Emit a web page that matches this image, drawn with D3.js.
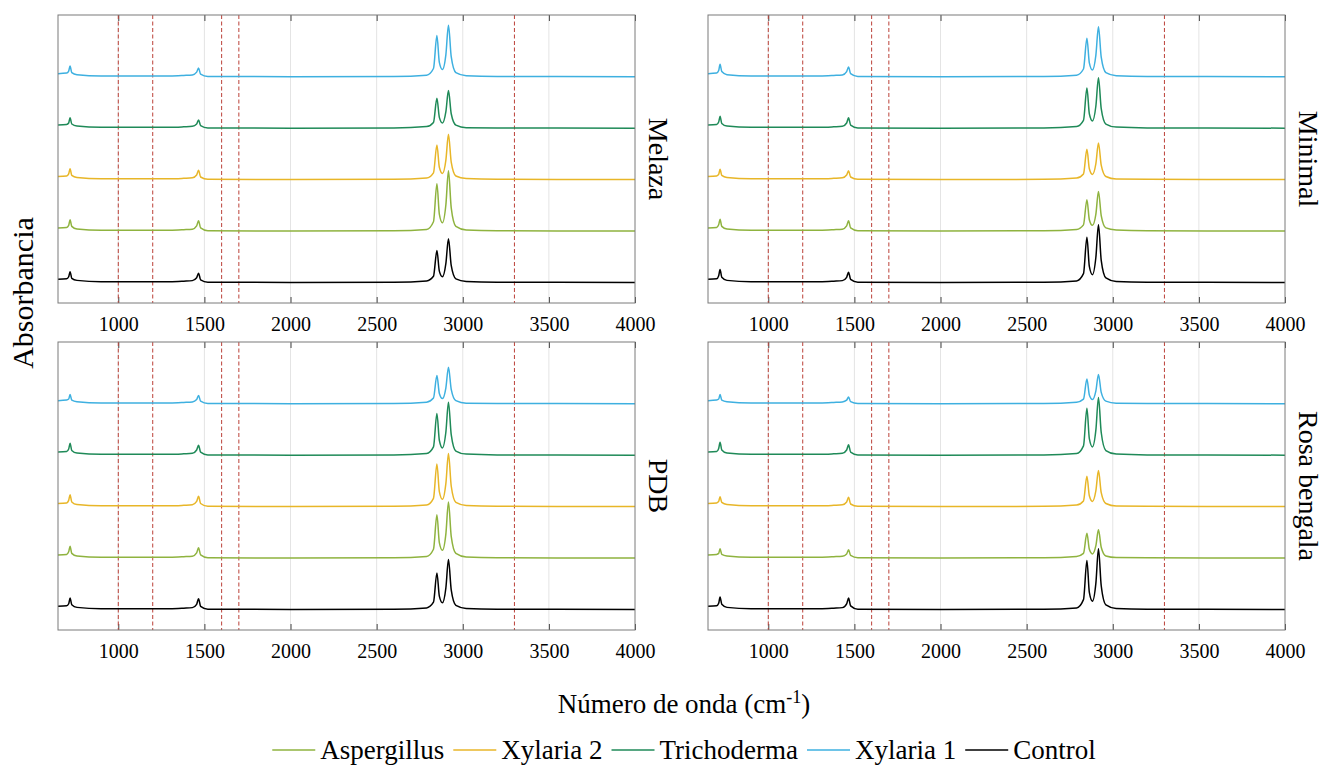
<!DOCTYPE html>
<html>
<head>
<meta charset="utf-8">
<script src="https://cdn.jsdelivr.net/npm/d3@7"></script>
<style>
  body { margin: 0; background: #fff; }
  svg { display: block; }
  text { font-family: "Liberation Serif", "Times New Roman", serif; fill: #000; }
</style>
</head>
<body>
<div id="chart"></div>
<script>
// wavenumber grid (cm-1) shared by every spectrum
const wavenumbers = [650, 700, 712, 720, 730, 760, 900, 1300, 1380, 1430, 1455, 1466, 1478, 1520,
  2000, 2600, 2790, 2830, 2850, 2864, 2882, 2902, 2917, 2933, 2960, 3020, 3200, 4000];

const seriesNames = ["Aspergillus", "Xylaria 2", "Trichoderma", "Xylaria 1", "Control"];
const seriesColors = ["#8fb33f", "#e8b628", "#1f8a58", "#3eb0e0", "#000000"];
const stackOffsets = [1, 2, 3, 4, 0];

const panelNames = ["Melaza", "Minimal", "PDB", "Rosa bengala"];

// absorbance values, one row per series (same order as seriesNames)
const melaza = [
  [0.06,0.07,0.11,0.22,0.09,0.04,0.015,0.015,0.025,0.035,0.10,0.20,0.06,0.005,0,0.005,0.03,0.18,0.92,0.33,0.16,0.51,1.17,0.45,0.09,0.02,0.005,0],
  [0.06,0.07,0.11,0.21,0.08,0.04,0.015,0.015,0.025,0.035,0.09,0.18,0.05,0.005,0,0.005,0.03,0.13,0.67,0.24,0.12,0.38,0.88,0.34,0.07,0.02,0.005,0],
  [0.06,0.07,0.10,0.20,0.08,0.04,0.015,0.015,0.025,0.035,0.08,0.16,0.05,0.005,0,0.005,0.03,0.11,0.58,0.21,0.10,0.32,0.73,0.28,0.06,0.01,0.005,0],
  [0.06,0.07,0.11,0.21,0.08,0.04,0.015,0.015,0.025,0.035,0.09,0.17,0.05,0.005,0,0.005,0.03,0.16,0.80,0.28,0.14,0.43,1.00,0.39,0.08,0.02,0.005,0],
  [0.06,0.07,0.11,0.21,0.08,0.04,0.015,0.015,0.025,0.035,0.09,0.18,0.05,0.005,0,0.005,0.03,0.12,0.62,0.22,0.11,0.37,0.85,0.33,0.07,0.02,0.005,0]
];
const minimal = [
  [0.06,0.07,0.12,0.23,0.09,0.04,0.015,0.015,0.025,0.035,0.10,0.20,0.06,0.005,0,0.005,0.03,0.12,0.61,0.22,0.11,0.33,0.77,0.30,0.06,0.02,0.005,0],
  [0.06,0.07,0.10,0.20,0.08,0.04,0.015,0.015,0.025,0.035,0.09,0.17,0.05,0.005,0,0.005,0.03,0.11,0.59,0.21,0.10,0.31,0.71,0.28,0.06,0.01,0.005,0],
  [0.06,0.07,0.12,0.23,0.09,0.04,0.015,0.015,0.025,0.035,0.10,0.20,0.06,0.005,0,0.005,0.03,0.15,0.78,0.28,0.14,0.43,0.98,0.38,0.08,0.02,0.005,0],
  [0.06,0.07,0.12,0.24,0.10,0.04,0.015,0.015,0.025,0.035,0.10,0.19,0.06,0.005,0,0.005,0.03,0.15,0.75,0.27,0.13,0.42,0.97,0.38,0.08,0.02,0.005,0],
  [0.06,0.07,0.13,0.25,0.10,0.04,0.015,0.015,0.025,0.035,0.10,0.20,0.06,0.005,0,0.005,0.03,0.17,0.88,0.31,0.15,0.49,1.12,0.43,0.09,0.02,0.005,0]
];
const pdb = [
  [0.06,0.07,0.12,0.23,0.09,0.04,0.015,0.015,0.025,0.035,0.10,0.20,0.06,0.005,0,0.005,0.03,0.17,0.84,0.30,0.15,0.47,1.09,0.42,0.09,0.02,0.005,0],
  [0.06,0.07,0.12,0.23,0.09,0.04,0.015,0.015,0.025,0.035,0.10,0.20,0.06,0.005,0,0.005,0.03,0.16,0.83,0.29,0.14,0.45,1.03,0.40,0.08,0.02,0.005,0],
  [0.06,0.07,0.12,0.23,0.09,0.04,0.015,0.015,0.025,0.035,0.10,0.19,0.06,0.005,0,0.005,0.03,0.16,0.81,0.29,0.14,0.45,1.03,0.40,0.08,0.02,0.005,0],
  [0.06,0.07,0.09,0.18,0.07,0.04,0.015,0.015,0.025,0.035,0.08,0.16,0.05,0.005,0,0.005,0.03,0.11,0.55,0.20,0.10,0.31,0.71,0.28,0.06,0.01,0.005,0],
  [0.06,0.07,0.11,0.22,0.09,0.04,0.015,0.015,0.025,0.035,0.10,0.21,0.06,0.005,0,0.005,0.03,0.14,0.71,0.26,0.13,0.42,0.97,0.38,0.08,0.02,0.005,0]
];
const rosaBengala = [
  [0.06,0.07,0.09,0.18,0.07,0.04,0.015,0.015,0.025,0.035,0.08,0.16,0.05,0.005,0,0.005,0.03,0.09,0.48,0.17,0.08,0.24,0.55,0.21,0.04,0.01,0.005,0],
  [0.06,0.07,0.10,0.19,0.08,0.04,0.015,0.015,0.025,0.035,0.09,0.18,0.05,0.005,0,0.005,0.03,0.11,0.59,0.21,0.10,0.31,0.70,0.27,0.06,0.01,0.005,0],
  [0.06,0.07,0.13,0.25,0.10,0.04,0.015,0.015,0.025,0.035,0.10,0.20,0.06,0.005,0,0.005,0.03,0.18,0.91,0.32,0.16,0.49,1.12,0.44,0.09,0.02,0.005,0],
  [0.06,0.07,0.09,0.18,0.07,0.04,0.015,0.015,0.025,0.035,0.07,0.13,0.04,0.005,0,0.005,0.03,0.09,0.48,0.17,0.08,0.25,0.57,0.22,0.05,0.01,0.005,0],
  [0.06,0.07,0.12,0.24,0.10,0.04,0.015,0.015,0.025,0.035,0.11,0.22,0.07,0.005,0,0.005,0.03,0.19,0.95,0.33,0.16,0.51,1.18,0.46,0.09,0.02,0.005,0]
];
const panelValues = [melaza, minimal, pdb, rosaBengala];

const xTicks = [1000, 1500, 2000, 2500, 3000, 3500, 4000];
const markerLines = [1000, 1200, 1600, 1700, 3300];

// LAYOUT
const width = 1323, height = 766;
const panelW = 577, panelH = 288;
const panelLeft = [58, 708];
const panelTop = [15, 342];
const serif = "'Liberation Serif', 'Times New Roman', serif";

const svg = d3.select("#chart").append("svg")
  .attr("width", width)
  .attr("height", height);

const xScale = d3.scaleLinear().domain([650, 4000]).range([0, panelW]);
const yScale = d3.scaleLinear().domain([-0.4, 5.2]).range([panelH, 0]);

const line = d3.line()
  .x(d => xScale(d[0]))
  .y(d => yScale(d[1]))
  .curve(d3.curveMonotoneX);

panelNames.forEach((name, i) => {
  const g = svg.append("g")
    .attr("transform", `translate(${panelLeft[i % 2]},${panelTop[Math.floor(i / 2)]})`);

  // grid
  g.selectAll(".grid")
    .data(xTicks.slice(0, -1))
    .join("line")
    .attr("class", "grid")
    .attr("x1", d => xScale(d)).attr("x2", d => xScale(d))
    .attr("y1", 0).attr("y2", panelH)
    .attr("stroke", "#e4e4e4")
    .attr("stroke-width", 1);

  // axes, ticks pointing inward
  const bottom = g.append("g")
    .attr("transform", `translate(0,${panelH})`)
    .call(d3.axisBottom(xScale).tickValues(xTicks).tickFormat(d3.format("d"))
      .tickSizeInner(-6).tickSizeOuter(0).tickPadding(14));
  const top = g.append("g")
    .call(d3.axisTop(xScale).tickValues(xTicks).tickSizeInner(-6).tickSizeOuter(0).tickFormat(""));
  [bottom, top].forEach(ax => {
    ax.attr("font-family", serif).attr("font-size", 20);
    ax.select(".domain").remove();
    ax.selectAll(".tick line").attr("stroke", "#444");
  });
  bottom.selectAll(".tick text")
    .attr("font-family", serif)
    .style("font-family", serif)
    .style("font-size", "20px")
    .attr("fill", "#222");

  // marker lines
  g.selectAll(".marker")
    .data(markerLines)
    .join("line")
    .attr("class", "marker")
    .attr("x1", d => xScale(d)).attr("x2", d => xScale(d))
    .attr("y1", 0).attr("y2", panelH)
    .attr("stroke", "#bb4038")
    .attr("stroke-width", 1)
    .attr("stroke-dasharray", "4,2.5");

  // spectra
  const values = panelValues[i];
  g.selectAll(".trace")
    .data(seriesNames)
    .join("path")
    .attr("class", "trace")
    .attr("fill", "none")
    .attr("stroke", (d, k) => seriesColors[k])
    .attr("stroke-width", 1.5)
    .attr("d", (d, k) => line(wavenumbers.map((w, j) => [w, values[k][j] + stackOffsets[k]])));

  // frame
  g.append("rect")
    .attr("x", 0).attr("y", 0)
    .attr("width", panelW).attr("height", panelH)
    .attr("fill", "none")
    .attr("stroke", "#7a7a7a")
    .attr("stroke-width", 1);

  // panel name
  g.append("text")
    .attr("transform", `translate(${panelW + 14},${panelH / 2}) rotate(90)`)
    .attr("text-anchor", "middle")
    .style("font-size", "28px")
    .text(name);
});

// axis titles
svg.append("text")
  .attr("transform", "translate(33,293) rotate(-90)")
  .attr("text-anchor", "middle")
  .style("font-size", "30px")
  .text("Absorbancia");

const xTitle = svg.append("text")
  .attr("x", 684)
  .attr("y", 713)
  .attr("text-anchor", "middle")
  .style("font-size", "27px");
xTitle.append("tspan").text("Número de onda (cm");
xTitle.append("tspan").attr("dy", -10).style("font-size", "18px").text("-1");
xTitle.append("tspan").attr("dy", 10).text(")");

// legend
const legend = svg.append("g");
let cursor = 0;
seriesNames.forEach((name, k) => {
  legend.append("line")
    .attr("x1", cursor).attr("x2", cursor + 43)
    .attr("y1", 750).attr("y2", 750)
    .attr("stroke", seriesColors[k])
    .attr("stroke-width", 1.5);
  const t = legend.append("text")
    .attr("x", cursor + 48)
    .attr("y", 759)
    .style("font-size", "27px")
    .text(name);
  cursor += 48 + t.node().getComputedTextLength() + 9;
});
cursor -= 9;
legend.attr("transform", `translate(${684 - cursor / 2},0)`);
</script>
</body>
</html>
